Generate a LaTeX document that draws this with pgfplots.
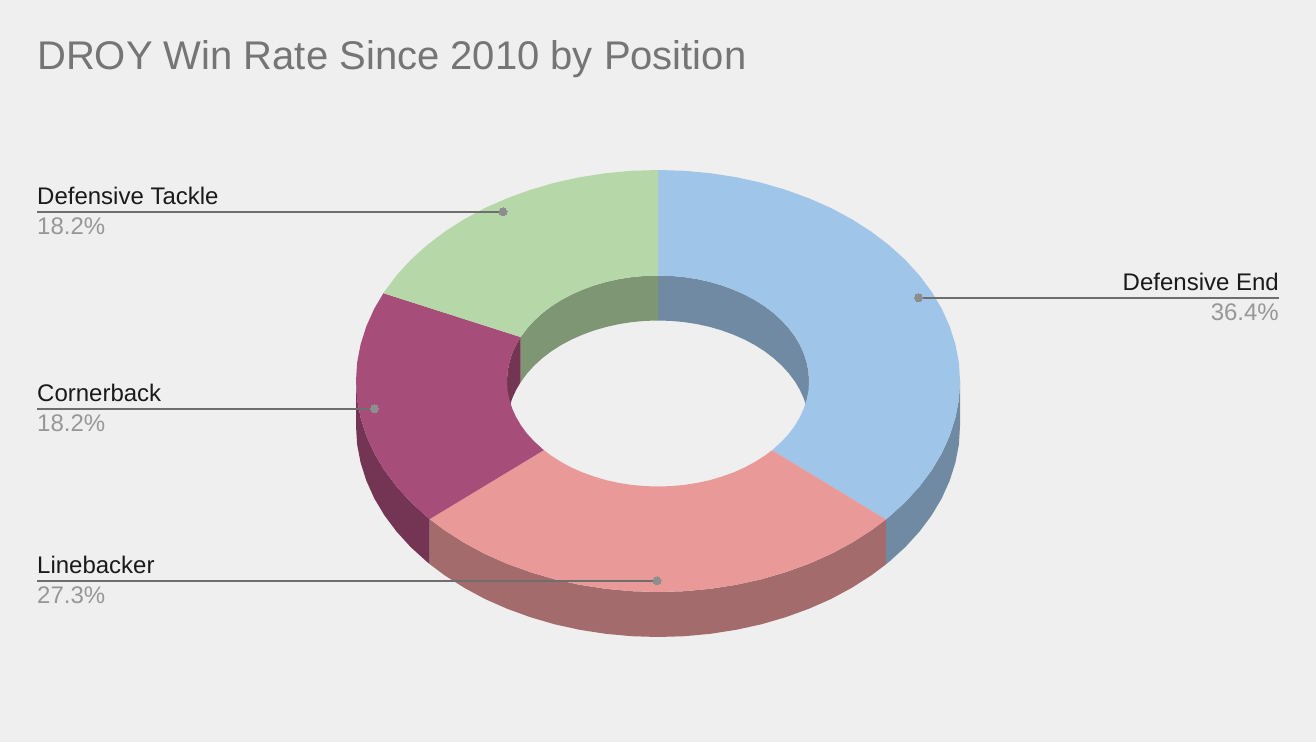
\documentclass[border=0pt]{standalone}
\usepackage{fontspec}
\setmainfont{Liberation Sans}
\usepackage{pgfplots}
\pgfplotsset{compat=1.18}

\definecolor{bg}{HTML}{EFEFEF}
\definecolor{deTop}{HTML}{9FC5E8}
\definecolor{deSide}{HTML}{6F8AA2}
\definecolor{lbTop}{HTML}{EA9999}
\definecolor{lbSide}{HTML}{A36B6B}
\definecolor{cbTop}{HTML}{A64D79}
\definecolor{cbSide}{HTML}{743554}
\definecolor{dtTop}{HTML}{B6D7A8}
\definecolor{dtSide}{HTML}{7F9675}
\definecolor{titlecol}{HTML}{757575}
\definecolor{namecol}{HTML}{1A1A1A}
\definecolor{pctcol}{HTML}{979797}
\definecolor{leader}{HTML}{6E6E6E}
\definecolor{dotcol}{HTML}{8E8E8E}

\begin{document}
\begin{tikzpicture}
\begin{axis}[
    scale only axis,
    width=1316pt, height=742pt,
    xmin=0, xmax=1316,
    ymin=0, ymax=742,
    y dir=reverse,
    hide axis,
    clip=true,
]
% background
\addplot[fill=bg, draw=none] coordinates {(0,0)(1316,0)(1316,742)(0,742)} -- cycle;

% outer wall, blue 90..131
\addplot[fill=deSide, draw=none] coordinates {
(960,381)(958.9,399.4)(955.4,417.6)(949.7,435.6)(941.8,453.2)(931.7,470.2)(919.5,486.5)(905.4,502.0)(889.3,516.6)(885.9,519.4)
(885.9,564.4)(889.3,561.6)(905.4,547.0)(919.5,531.5)(931.7,515.2)(941.8,498.2)(949.7,480.6)(955.4,462.6)(958.9,444.4)(960,426)
} -- cycle;
% outer wall, red 131..229.1
\addplot[fill=lbSide, draw=none] coordinates {
(885.9,519.4)(871.5,530.2)(852.1,542.6)(831.2,553.9)(809,563.7)(785.6,572.2)(761.3,579.3)(736.2,584.8)(710.4,588.8)(684.3,591.2)(658,592)
(631.7,591.2)(605.6,588.8)(579.8,584.8)(554.7,579.3)(530.4,572.2)(507,563.7)(484.8,553.9)(463.9,542.6)(444.5,530.2)(429.7,519.1)
(429.7,564.1)(444.5,575.2)(463.9,587.6)(484.8,598.9)(507,608.7)(530.4,617.2)(554.7,624.3)(579.8,629.8)(605.6,633.8)(631.7,636.2)
(658,637)(684.3,636.2)(710.4,633.8)(736.2,629.8)(761.3,624.3)(785.6,617.2)(809,608.7)(831.2,598.9)(852.1,587.6)(871.5,575.2)(885.9,564.4)
} -- cycle;
% outer wall, maroon 229.1..270
\addplot[fill=cbSide, draw=none] coordinates {
(429.7,519.1)(426.7,516.6)(410.6,502.0)(396.5,486.5)(384.3,470.2)(374.2,453.2)(366.3,435.6)(360.6,417.6)(357.1,399.4)(356,381)
(356,426)(357.1,444.4)(360.6,462.6)(366.3,480.6)(374.2,498.2)(384.3,515.2)(396.5,531.5)(410.6,547.0)(426.7,561.6)(429.7,564.1)
} -- cycle;

% inner wall, blue 0..90
\addplot[fill=deSide, draw=none] coordinates {
(658,275.5)(671.2,275.9)(684.2,277.1)(697.1,279.1)(709.7,281.9)(721.8,285.4)(733.5,289.7)(744.6,294.6)(755.1,300.2)(764.8,306.4)
(773.7,313.2)(781.7,320.5)(788.8,328.3)(794.9,336.4)(799.9,344.9)(803.9,353.7)(806.7,362.7)(808.5,371.8)(809,381)
(809,426)(808.5,416.8)(806.7,407.7)(803.9,398.7)(799.9,389.9)(794.9,381.4)(788.8,373.3)(781.7,365.5)(773.7,358.2)
(764.8,351.4)(755.1,345.2)(744.6,339.6)(733.5,334.7)(721.8,330.4)(709.7,326.9)(697.1,324.1)(684.2,322.1)(671.2,320.9)(658,320.5)
} -- cycle;
% inner wall, green 294.6..360
\addplot[fill=dtSide, draw=none] coordinates {
(520.7,337.1)(527.2,328.3)(534.3,320.5)(542.3,313.2)(551.2,306.4)(560.9,300.2)(571.4,294.6)(582.5,289.7)(594.2,285.4)(606.3,281.9)
(618.9,279.1)(631.8,277.1)(644.8,275.9)(658,275.5)
(658,320.5)(644.8,320.9)(631.8,322.1)(618.9,324.1)(606.3,326.9)(594.2,330.4)(582.5,334.7)(571.4,339.6)(560.9,345.2)(551.2,351.4)
(542.3,358.2)(534.3,365.5)(527.2,373.3)(520.7,382.1)
} -- cycle;
% inner wall, maroon 270..294.6
\addplot[fill=cbSide, draw=none] coordinates {
(507,381)(507.5,371.8)(509.3,362.7)(512.1,353.7)(516.1,344.9)(520.7,337.1)
(520.7,382.1)(516.1,389.9)(512.1,398.7)(509.3,407.7)(507.5,416.8)(507,426)
} -- cycle;

% top face, Defensive End 36.4%
\addplot[fill=deTop, draw=none] coordinates {
(658,170)(684.3,170.8)(710.4,173.2)(736.2,177.2)(761.3,182.7)(785.6,189.8)(809,198.3)(831.2,208.1)(852.1,219.4)(871.5,231.8)
(889.3,245.4)(905.4,260.0)(919.5,275.5)(931.7,291.8)(941.8,308.8)(949.7,326.4)(955.4,344.4)(958.9,362.6)(960,381)
(958.9,399.4)(955.4,417.6)(949.7,435.6)(941.8,453.2)(931.7,470.2)(919.5,486.5)(905.4,502.0)(889.3,516.6)(885.9,519.4)
(772,450.2)(773.7,448.8)(781.7,441.5)(788.8,433.8)(794.9,425.6)(799.9,417.1)(803.9,408.3)(806.7,399.3)(808.5,390.2)(809,381)
(808.5,371.8)(806.7,362.7)(803.9,353.7)(799.9,344.9)(794.9,336.4)(788.8,328.3)(781.7,320.5)(773.7,313.2)(764.8,306.4)(755.1,300.2)
(744.6,294.6)(733.5,289.7)(721.8,285.4)(709.7,281.9)(697.1,279.1)(684.2,277.1)(671.2,275.9)(658,275.5)
} -- cycle;
% top face, Linebacker 27.3%
\addplot[fill=lbTop, draw=none] coordinates {
(885.9,519.4)(871.5,530.2)(852.1,542.6)(831.2,553.9)(809,563.7)(785.6,572.2)(761.3,579.3)(736.2,584.8)(710.4,588.8)(684.3,591.2)(658,592)
(631.7,591.2)(605.6,588.8)(579.8,584.8)(554.7,579.3)(530.4,572.2)(507,563.7)(484.8,553.9)(463.9,542.6)(444.5,530.2)(429.7,519.1)
(543.9,450.1)(551.2,455.6)(560.9,461.8)(571.4,467.5)(582.5,472.4)(594.2,476.6)(606.3,480.2)(618.9,482.9)(631.8,484.9)(644.8,486.1)
(658,486.5)(671.2,486.1)(684.2,484.9)(697.1,482.9)(709.7,480.2)(721.8,476.6)(733.5,472.4)(744.6,467.5)(755.1,461.8)(764.8,455.6)(772,450.2)
} -- cycle;
% top face, Cornerback 18.2%
\addplot[fill=cbTop, draw=none] coordinates {
(429.7,519.1)(426.7,516.6)(410.6,502.0)(396.5,486.5)(384.3,470.2)(374.2,453.2)(366.3,435.6)(360.6,417.6)(357.1,399.4)(356,381)
(357.1,362.6)(360.6,344.4)(366.3,326.4)(374.2,308.8)(383.4,293.2)
(520.7,337.1)(516.1,344.9)(512.1,353.7)(509.3,362.7)(507.5,371.8)(507,381)(507.5,390.2)(509.3,399.3)(512.1,408.3)(516.1,417.1)
(521.1,425.6)(527.2,433.8)(534.3,441.5)(542.3,448.8)(543.9,450.1)
} -- cycle;
% top face, Defensive Tackle 18.2%
\addplot[fill=dtTop, draw=none] coordinates {
(383.4,293.2)(384.3,291.8)(396.5,275.5)(410.6,260.0)(426.7,245.4)(444.5,231.8)(463.9,219.4)(484.8,208.1)(507,198.3)(530.4,189.8)
(554.7,182.7)(579.8,177.2)(605.6,173.2)(631.7,170.8)(658,170)
(658,275.5)(644.8,275.9)(631.8,277.1)(618.9,279.1)(606.3,281.9)(594.2,285.4)(582.5,289.7)(571.4,294.6)(560.9,300.2)(551.2,306.4)
(542.3,313.2)(534.3,320.5)(527.2,328.3)(521.1,336.4)(520.7,337.1)
} -- cycle;

% leader lines
\addplot[leader, line width=2pt] coordinates {(918.5,297.7)(1279,297.7)};
\addplot[leader, line width=2pt] coordinates {(37,211.8)(503,211.8)};
\addplot[leader, line width=2pt] coordinates {(37,408.7)(374.5,408.7)};
\addplot[leader, line width=2pt] coordinates {(37,580.8)(657,580.8)};
\addplot[only marks, mark=*, mark size=4pt, color=dotcol, mark options={fill=dotcol, draw=dotcol, line width=0pt}] coordinates {
(918.5,297.7)(503,211.8)(374.5,408.7)(657,580.8)};

% text
\node[anchor=base west, inner sep=0pt, text=titlecol, font=\fontsize{40}{48}\selectfont] at (axis cs:37,69) {DROY Win Rate Since 2010 by Position};

\node[anchor=base east, inner sep=0pt, text=namecol, font=\fontsize{24}{28}\selectfont] at (axis cs:1279,290) {Defensive End};
\node[anchor=base east, inner sep=0pt, text=pctcol, font=\fontsize{24}{28}\selectfont] at (axis cs:1279,320) {36.4\%};

\node[anchor=base west, inner sep=0pt, text=namecol, font=\fontsize{24}{28}\selectfont] at (axis cs:37,204) {Defensive Tackle};
\node[anchor=base west, inner sep=0pt, text=pctcol, font=\fontsize{24}{28}\selectfont] at (axis cs:37,234) {18.2\%};

\node[anchor=base west, inner sep=0pt, text=namecol, font=\fontsize{24}{28}\selectfont] at (axis cs:37,401) {Cornerback};
\node[anchor=base west, inner sep=0pt, text=pctcol, font=\fontsize{24}{28}\selectfont] at (axis cs:37,431) {18.2\%};

\node[anchor=base west, inner sep=0pt, text=namecol, font=\fontsize{24}{28}\selectfont] at (axis cs:37,573) {Linebacker};
\node[anchor=base west, inner sep=0pt, text=pctcol, font=\fontsize{24}{28}\selectfont] at (axis cs:37,603) {27.3\%};
\end{axis}
\end{tikzpicture}
\end{document}
